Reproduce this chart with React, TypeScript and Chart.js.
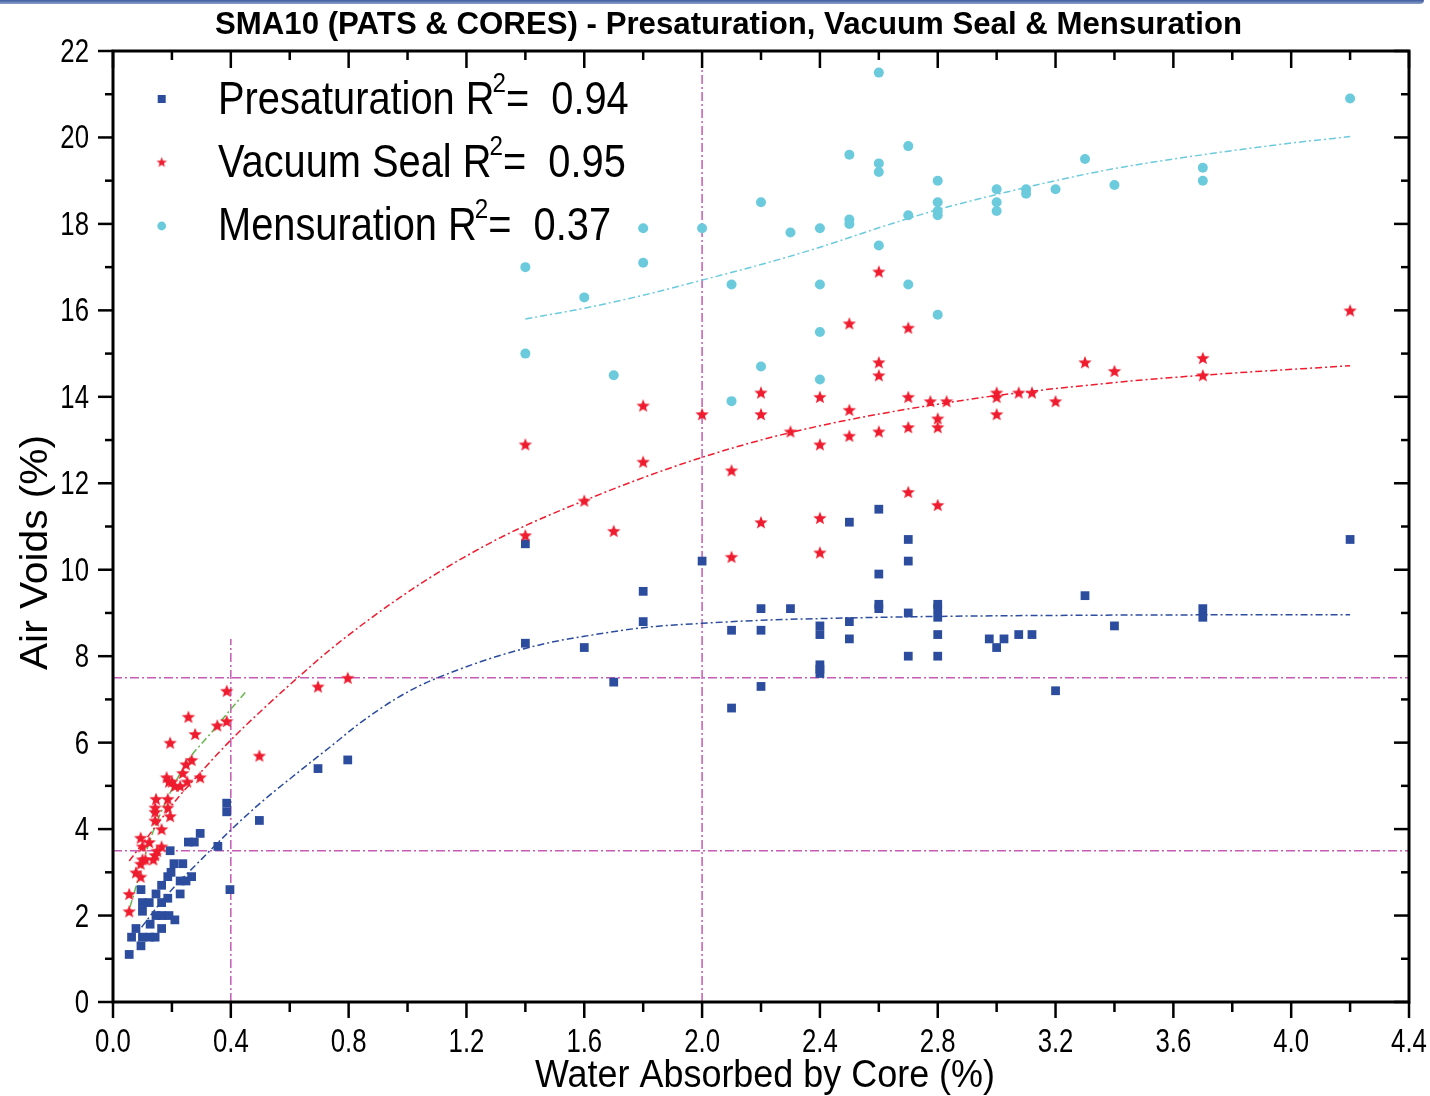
import React, { useEffect, useRef } from 'react';
import { Chart, registerables } from 'chart.js';

Chart.register(...registerables);

// ---------- text ----------
const TITLE = 'SMA10 (PATS & CORES) - Presaturation, Vacuum Seal & Mensuration';
const X_TITLE = 'Water Absorbed by Core (%)';
const Y_TITLE = 'Air Voids (%)';
const SERIES_NAMES = ['Presaturation', 'Vacuum Seal', 'Mensuration'];
const R2_VALUES = ['0.94', '0.95', '0.37'];

// ---------- axes ----------
const X_MIN = 0;
const X_MAX = 4.4;
const X_STEP = 0.4;
const Y_MIN = 0;
const Y_MAX = 22;
const Y_STEP = 2;

// ---------- data: Presaturation ----------
const presatX = [
  0.055, 0.063, 0.078, 0.095, 0.10, 0.125, 0.143, 0.095, 0.10, 0.123, 0.10, 0.126, 0.146, 0.146,
  0.165, 0.165, 0.165, 0.165, 0.186, 0.186, 0.19, 0.197, 0.207, 0.21, 0.228, 0.228, 0.237, 0.248,
  0.267, 0.256, 0.276, 0.296, 0.194, 0.356, 0.386, 0.386, 0.397, 0.497, 0.696, 0.797,
  1.4, 1.4, 1.6, 1.7, 1.8, 1.8, 2.0, 2.1, 2.1, 2.2, 2.2, 2.2, 2.3, 2.4, 2.4, 2.4, 2.4, 2.4,
  2.5, 2.5, 2.5, 2.6, 2.6, 2.6, 2.6, 2.7, 2.7, 2.7, 2.7, 2.8, 2.8, 2.8, 2.8, 2.8,
  2.975, 3.0, 3.025, 3.075, 3.12, 3.2, 3.3, 3.4, 3.7, 3.7, 4.2,
];
const presatY = [
  1.1, 1.5, 1.7, 1.3, 1.5, 1.5, 1.5, 2.6, 2.3, 2.3, 2.1, 1.8, 2.0, 2.5,
  2.7, 2.3, 2.0, 1.7, 2.4, 2.9, 2.0, 3.0, 3.2, 1.9, 2.8, 2.5, 3.2, 2.8,
  2.9, 3.7, 3.7, 3.9, 3.5, 3.6, 4.6, 4.4, 2.6, 4.2, 5.4, 5.6,
  10.6, 8.3, 8.2, 7.4, 9.5, 8.8, 10.2, 8.6, 6.8, 9.1, 8.6, 7.3, 9.1, 8.7, 8.5, 7.8, 7.7, 7.6,
  11.1, 8.8, 8.4, 11.4, 9.9, 9.2, 9.1, 10.7, 10.2, 9.0, 8.0, 9.2, 9.1, 8.9, 8.5, 8.0,
  8.4, 8.2, 8.4, 8.5, 8.5, 7.2, 9.4, 8.7, 9.1, 8.9, 10.7,
];

// ---------- data: Vacuum Seal ----------
const vacuumX = [
  0.055, 0.055, 0.078, 0.094, 0.094, 0.10, 0.11, 0.094, 0.10, 0.123, 0.137, 0.143, 0.15, 0.165,
  0.165, 0.143, 0.143, 0.143, 0.146, 0.186, 0.186, 0.194, 0.182, 0.19, 0.2, 0.21, 0.228, 0.237,
  0.248, 0.252, 0.267, 0.296, 0.194, 0.256, 0.279, 0.354, 0.386, 0.386, 0.497, 0.696, 0.797,
  1.4, 1.4, 1.6, 1.7, 1.8, 1.8, 2.0, 2.1, 2.1, 2.2, 2.2, 2.2, 2.3, 2.4, 2.4, 2.4, 2.4,
  2.5, 2.5, 2.5, 2.6, 2.6, 2.6, 2.6, 2.7, 2.7, 2.7, 2.7, 2.775, 2.83, 2.8, 2.8, 2.8,
  3.0, 3.0, 3.0, 3.075, 3.12, 3.2, 3.3, 3.4, 3.7, 3.7, 4.2,
];
const vacuumY = [
  2.1, 2.5, 3.0, 2.9, 3.2, 3.3, 3.3, 3.8, 3.6, 3.7, 3.3, 3.4, 3.5, 3.6,
  4.0, 4.2, 4.4, 4.5, 4.7, 4.7, 4.5, 4.3, 5.2, 5.1, 5.1, 5.0, 5.0, 5.3,
  5.5, 5.1, 5.6, 5.2, 6.0, 6.6, 6.2, 6.4, 6.5, 7.2, 5.7, 7.3, 7.5,
  12.9, 10.8, 11.6, 10.9, 13.8, 12.5, 13.6, 12.3, 10.3, 14.1, 13.6, 11.1, 13.2, 14.0, 12.9, 11.2, 10.4,
  15.7, 13.7, 13.1, 16.9, 14.8, 14.5, 13.2, 15.6, 14.0, 13.3, 11.8, 13.9, 13.9, 13.5, 13.3, 11.5,
  14.1, 14.0, 13.6, 14.1, 14.1, 13.9, 14.8, 14.6, 14.9, 14.5, 16.0,
];

// ---------- data: Mensuration ----------
const mensX = [
  1.4, 1.4, 1.6, 1.7, 1.8, 1.8, 2.0, 2.1, 2.1, 2.2, 2.2, 2.3, 2.4, 2.4, 2.4, 2.4,
  2.5, 2.5, 2.5, 2.6, 2.6, 2.6, 2.6, 2.7, 2.7, 2.7, 2.8, 2.8, 2.8, 2.8, 2.8,
  3.0, 3.0, 3.0, 3.1, 3.1, 3.2, 3.3, 3.4, 3.7, 3.7, 4.2,
];
const mensY = [
  17.0, 15.0, 16.3, 14.5, 17.9, 17.1, 17.9, 16.6, 13.9, 18.5, 14.7, 17.8, 17.9, 16.6, 15.5, 14.4,
  19.6, 18.1, 18.0, 21.5, 19.4, 19.2, 17.5, 19.8, 18.2, 16.6, 19.0, 18.5, 18.3, 18.2, 15.9,
  18.8, 18.5, 18.3, 18.8, 18.7, 18.8, 19.5, 18.9, 19.3, 19.0, 20.9,
];

// ---------- fitted curves ----------
const presatFitX = [0.097, 0.15, 0.2, 0.3, 0.4, 0.5, 0.635, 0.75, 0.828, 0.9, 0.964, 1.03, 1.088, 1.17, 1.247, 1.32, 1.4, 1.5, 1.6, 1.8, 2.0, 2.2, 2.4, 2.8, 3.4, 4.2];
const presatFitY = [1.73, 2.2, 2.6, 3.3, 3.98, 4.6, 5.35, 5.97, 6.4, 6.75, 7.03, 7.28, 7.46, 7.68, 7.87, 8.03, 8.18, 8.34, 8.46, 8.66, 8.76, 8.83, 8.87, 8.92, 8.95, 8.96];

const vacuumFitX = [0.055, 0.14, 0.22, 0.3, 0.4, 0.51, 0.64, 0.737, 0.85, 0.964, 1.077, 1.19, 1.303, 1.4, 1.6, 1.8, 2.0, 2.2, 2.4, 2.6, 2.8, 3.0, 3.4, 3.7, 4.2];
const vacuumFitY = [3.26, 4.02, 4.72, 5.33, 6.06, 6.78, 7.58, 8.15, 8.75, 9.31, 9.82, 10.28, 10.7, 11.02, 11.6, 12.13, 12.6, 13.0, 13.33, 13.6, 13.83, 14.03, 14.33, 14.5, 14.72];

const mensFitX = [1.4, 1.6, 1.8, 2.0, 2.2, 2.4, 2.6, 2.8, 3.0, 3.2, 3.4, 3.7, 4.0, 4.2];
const mensFitY = [15.8, 16.05, 16.35, 16.7, 17.06, 17.46, 17.91, 18.33, 18.68, 19.0, 19.28, 19.6, 19.87, 20.02];

const lowFitX = [0.058, 0.126, 0.182, 0.256, 0.326, 0.397, 0.454];
const lowFitY = [2.2, 3.75, 4.67, 5.6, 6.17, 6.75, 7.2];

// ---------- reference lines ----------
const refVerticalX = [0.4, 2.0];
const refVerticalTop = [8.4, 22];
const refHorizontalY = [7.5, 3.5];

// ---------- styles ----------
const BLUE = '#2c4c9e';
const RED = '#ee1c2e';
const CYAN = '#6bcbdd';
const GREEN = '#62b84a';
const MAGENTA = '#c65ab4';
const DASH = [7, 3, 2, 3];
const SANS = "'Liberation Sans', Arial, sans-serif";

const toPts = (xs: number[], ys: number[]) => xs.map((x, i) => ({ x, y: ys[i] }));

function makeStar(color: string, outer: number, inner: number) {
  const size = Math.ceil(outer * 2 + 2);
  const c = document.createElement('canvas');
  c.width = size;
  c.height = size;
  const ctx = c.getContext('2d')!;
  ctx.fillStyle = color;
  ctx.beginPath();
  for (let i = 0; i < 10; i++) {
    const r = i % 2 === 0 ? outer : inner;
    const a = -Math.PI / 2 + (i * Math.PI) / 5;
    const px = size / 2 + r * Math.cos(a);
    const py = size / 2 + outer * 0.1 + r * Math.sin(a);
    if (i === 0) ctx.moveTo(px, py);
    else ctx.lineTo(px, py);
  }
  ctx.closePath();
  ctx.fill();
  return c;
}

function fitText(ctx: CanvasRenderingContext2D, text: string, x: number, y: number, font: string, width: number) {
  ctx.font = font;
  const w = ctx.measureText(text).width;
  ctx.save();
  ctx.translate(x, y);
  ctx.scale(width / w, 1);
  ctx.fillText(text, 0, 0);
  ctx.restore();
}

function scaledText(ctx: CanvasRenderingContext2D, text: string, x: number, y: number, font: string, sx: number, align = 'left') {
  ctx.font = font;
  const w = ctx.measureText(text).width * sx;
  let x0 = x;
  if (align === 'center') x0 = x - w / 2;
  else if (align === 'right') x0 = x - w;
  ctx.save();
  ctx.translate(x0, y);
  ctx.scale(sx, 1);
  ctx.fillText(text, 0, 0);
  ctx.restore();
  return w;
}

export default function App() {
  const ref = useRef<HTMLCanvasElement>(null);

  useEffect(() => {
    const canvas = ref.current!;
    const star = makeStar(RED, 7, 3);
    const legendStar = makeStar(RED, 5.5, 2.3);

    const decor = {
      id: 'decor',
      afterDraw(chart: any) {
        const { ctx, chartArea: a } = chart;
        const xs = chart.scales.x;
        const ys = chart.scales.y;
        ctx.save();
        const line = (x1: number, y1: number, x2: number, y2: number) => {
          ctx.beginPath();
          ctx.moveTo(x1, y1);
          ctx.lineTo(x2, y2);
          ctx.stroke();
        };
        ctx.strokeStyle = '#000';
        ctx.lineWidth = 2.5;
        const nx = Math.round((X_MAX - X_MIN) / (X_STEP / 2));
        for (let i = 0; i <= nx; i++) {
          const px = xs.getPixelForValue(X_MIN + (i * X_STEP) / 2);
          const major = i % 2 === 0;
          line(px, a.bottom, px, a.bottom + (major ? 16 : 10));
          line(px, a.top, px, a.top + (major ? 17 : 9));
        }
        const ny = Math.round((Y_MAX - Y_MIN) / (Y_STEP / 2));
        for (let j = 0; j <= ny; j++) {
          const py = ys.getPixelForValue(Y_MIN + (j * Y_STEP) / 2);
          const major = j % 2 === 0;
          line(a.left - (major ? 15 : 8), py, a.left, py);
          line(a.right - (major ? 15 : 8), py, a.right, py);
        }
        ctx.lineWidth = 3;
        ctx.strokeRect(a.left, a.top, a.right - a.left, a.bottom - a.top);

        // tick labels (from the library's generated ticks)
        ctx.fillStyle = '#000';
        ctx.textAlign = 'left';
        ctx.textBaseline = 'alphabetic';
        const tickFont = `33px ${SANS}`;
        xs.ticks.forEach((t: any) => {
          const px = xs.getPixelForValue(t.value);
          scaledText(ctx, Number(t.value).toFixed(1), px, a.bottom + 50, tickFont, 0.78, 'center');
        });
        ys.ticks.forEach((t: any) => {
          const py = ys.getPixelForValue(t.value);
          scaledText(ctx, String(Math.round(t.value)), a.left - 24, py + 11, tickFont, 0.78, 'right');
        });

        // titles
        fitText(ctx, TITLE, 215, 33.5, `bold 32px ${SANS}`, 1027);
        fitText(ctx, X_TITLE, 535, 1087, `38px ${SANS}`, 460);
        ctx.save();
        ctx.translate(47, 670);
        ctx.rotate(-Math.PI / 2);
        fitText(ctx, Y_TITLE, 0, 0, `38px ${SANS}`, 235);
        ctx.restore();

        // legend
        const s = 0.865;
        const baselines = [114, 177.3, 240];
        const markerY = [99, 162, 226];
        const mx = 161.7;
        for (let k = 0; k < 3; k++) {
          const base = baselines[k];
          let x = 218;
          x += scaledText(ctx, `${SERIES_NAMES[k]} R`, x, base, `46px ${SANS}`, s);
          x -= 2;
          x += scaledText(ctx, '2', x, base - 22, `28px ${SANS}`, s);
          scaledText(ctx, `=  ${R2_VALUES[k]}`, x, base, `46px ${SANS}`, s);
        }
        ctx.fillStyle = BLUE;
        ctx.fillRect(mx - 4, markerY[0] - 4, 8, 8);
        ctx.drawImage(legendStar, mx - legendStar.width / 2, markerY[1] - legendStar.height / 2);
        ctx.fillStyle = CYAN;
        ctx.beginPath();
        ctx.arc(mx, markerY[2], 4.4, 0, Math.PI * 2);
        ctx.fill();
        ctx.restore();
      },
    };

    const fit = (xs: number[], ys: number[], color: string) => ({
      type: 'line' as const,
      data: toPts(xs, ys),
      borderColor: color,
      borderWidth: 1.5,
      borderDash: DASH,
      pointRadius: 0,
      showLine: true,
      fill: false,
      cubicInterpolationMode: 'monotone' as const,
      order: 2,
    });

    const refSets = [
      ...refVerticalX.map((vx, i) => [
        { x: vx, y: Y_MIN },
        { x: vx, y: refVerticalTop[i] },
      ]),
      ...refHorizontalY.map((hy) => [
        { x: X_MIN, y: hy },
        { x: X_MAX, y: hy },
      ]),
    ].map((pts) => ({
      type: 'line' as const,
      data: pts,
      borderColor: MAGENTA,
      borderWidth: 1.5,
      borderDash: [9, 3, 2, 3],
      pointRadius: 0,
      showLine: true,
      fill: false,
      order: 3,
    }));

    const chart = new Chart(canvas, {
      type: 'scatter',
      data: {
        datasets: [
          {
            label: SERIES_NAMES[0],
            data: toPts(presatX, presatY),
            pointStyle: 'rect',
            pointRadius: 6.2,
            backgroundColor: BLUE,
            borderColor: BLUE,
            borderWidth: 0,
            order: 1,
          },
          {
            label: SERIES_NAMES[1],
            data: toPts(vacuumX, vacuumY),
            pointStyle: star as any,
            pointRadius: 7,
            backgroundColor: RED,
            borderColor: RED,
            order: 0,
          },
          {
            label: SERIES_NAMES[2],
            data: toPts(mensX, mensY),
            pointStyle: 'circle',
            pointRadius: 5,
            backgroundColor: CYAN,
            borderColor: CYAN,
            borderWidth: 0,
            order: 0,
          },
          fit(presatFitX, presatFitY, BLUE),
          fit(vacuumFitX, vacuumFitY, RED),
          fit(mensFitX, mensFitY, CYAN),
          fit(lowFitX, lowFitY, GREEN),
          ...refSets,
        ] as any,
      },
      options: {
        responsive: false,
        animation: false,
        devicePixelRatio: 1,
        events: [],
        layout: { padding: { top: 51, right: 21, left: 0, bottom: 0 } },
        plugins: { legend: { display: false }, tooltip: { enabled: false }, title: { display: false } },
        scales: {
          x: {
            type: 'linear',
            min: X_MIN,
            max: X_MAX,
            grid: { display: false, drawTicks: false },
            border: { display: false },
            ticks: { stepSize: X_STEP, autoSkip: false, display: false },
            afterFit: (scale: any) => {
              scale.height = 94;
              scale.paddingLeft = 0;
              scale.paddingRight = 0;
            },
          },
          y: {
            type: 'linear',
            min: Y_MIN,
            max: Y_MAX,
            grid: { display: false, drawTicks: false },
            border: { display: false },
            ticks: { stepSize: Y_STEP, autoSkip: false, display: false },
            afterFit: (scale: any) => {
              scale.width = 113;
              scale.paddingTop = 0;
              scale.paddingBottom = 0;
            },
          },
        },
      },
      plugins: [decor],
    } as any);

    return () => chart.destroy();
  }, []);

  return (
    <div style={{ position: 'absolute', left: 0, top: 0, width: 1430, height: 1096, background: '#fff' }}>
      <canvas ref={ref} width={1430} height={1096} style={{ display: 'block', width: 1430, height: 1096 }} />
      <div
        style={{
          position: 'absolute',
          left: 0,
          top: 0,
          width: 1424,
          height: 4,
          background: 'linear-gradient(#3c5a9e, #8fa2cc)',
          borderRadius: '0 0 4px 0',
        }}
      />
    </div>
  );
}
